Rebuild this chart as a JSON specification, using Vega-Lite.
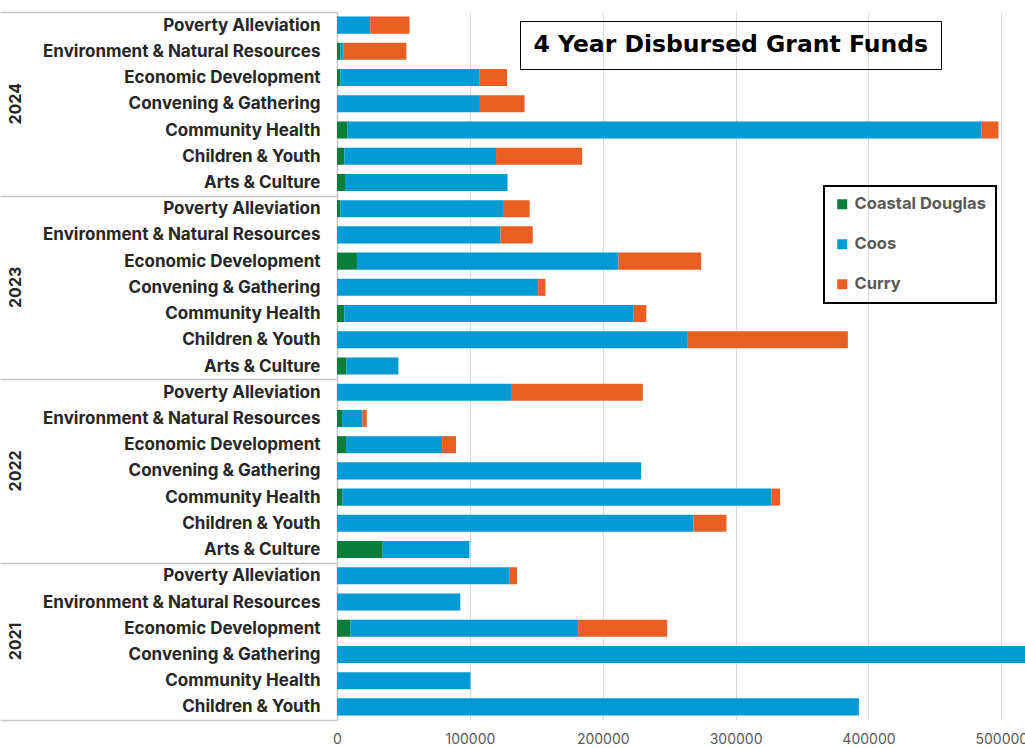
{
  "$schema": "https://vega.github.io/schema/vega-lite/v6.json",
  "autosize": {"type": "none"},
  "padding": {"left": 337, "top": 12, "right": 0, "bottom": 28},
  "width": 688,
  "height": 708,
  "background": "white",
  "config": {"view": {"stroke": null}, "font": "Inter"},
  "resolve": {"axis": {"y": "independent"}},
  "layer": [
    {
      "data": {"values": [
        {"key": "2024|Poverty Alleviation", "county": "Coos", "amount": 25000},
        {"key": "2024|Poverty Alleviation", "county": "Curry", "amount": 29600},
        {"key": "2024|Environment & Natural Resources", "county": "Coastal Douglas", "amount": 2500},
        {"key": "2024|Environment & Natural Resources", "county": "Coos", "amount": 2500},
        {"key": "2024|Environment & Natural Resources", "county": "Curry", "amount": 47200},
        {"key": "2024|Economic Development", "county": "Coastal Douglas", "amount": 2500},
        {"key": "2024|Economic Development", "county": "Coos", "amount": 104900},
        {"key": "2024|Economic Development", "county": "Curry", "amount": 20600},
        {"key": "2024|Convening & Gathering", "county": "Coos", "amount": 106900},
        {"key": "2024|Convening & Gathering", "county": "Curry", "amount": 34300},
        {"key": "2024|Community Health", "county": "Coastal Douglas", "amount": 8000},
        {"key": "2024|Community Health", "county": "Coos", "amount": 477200},
        {"key": "2024|Community Health", "county": "Curry", "amount": 12600},
        {"key": "2024|Children & Youth", "county": "Coastal Douglas", "amount": 5500},
        {"key": "2024|Children & Youth", "county": "Coos", "amount": 114200},
        {"key": "2024|Children & Youth", "county": "Curry", "amount": 64800},
        {"key": "2024|Arts & Culture", "county": "Coastal Douglas", "amount": 6000},
        {"key": "2024|Arts & Culture", "county": "Coos", "amount": 122300},
        {"key": "2023|Poverty Alleviation", "county": "Coastal Douglas", "amount": 2500},
        {"key": "2023|Poverty Alleviation", "county": "Coos", "amount": 122500},
        {"key": "2023|Poverty Alleviation", "county": "Curry", "amount": 20000},
        {"key": "2023|Environment & Natural Resources", "county": "Coos", "amount": 123000},
        {"key": "2023|Environment & Natural Resources", "county": "Curry", "amount": 24300},
        {"key": "2023|Economic Development", "county": "Coastal Douglas", "amount": 15000},
        {"key": "2023|Economic Development", "county": "Coos", "amount": 196800},
        {"key": "2023|Economic Development", "county": "Curry", "amount": 62300},
        {"key": "2023|Convening & Gathering", "county": "Coos", "amount": 151400},
        {"key": "2023|Convening & Gathering", "county": "Curry", "amount": 5500},
        {"key": "2023|Community Health", "county": "Coastal Douglas", "amount": 5500},
        {"key": "2023|Community Health", "county": "Coos", "amount": 217800},
        {"key": "2023|Community Health", "county": "Curry", "amount": 9500},
        {"key": "2023|Children & Youth", "county": "Coos", "amount": 264000},
        {"key": "2023|Children & Youth", "county": "Curry", "amount": 120500},
        {"key": "2023|Arts & Culture", "county": "Coastal Douglas", "amount": 7000},
        {"key": "2023|Arts & Culture", "county": "Coos", "amount": 39200},
        {"key": "2022|Poverty Alleviation", "county": "Coos", "amount": 131000},
        {"key": "2022|Poverty Alleviation", "county": "Curry", "amount": 99200},
        {"key": "2022|Environment & Natural Resources", "county": "Coastal Douglas", "amount": 3800},
        {"key": "2022|Environment & Natural Resources", "county": "Coos", "amount": 15300},
        {"key": "2022|Environment & Natural Resources", "county": "Curry", "amount": 3300},
        {"key": "2022|Economic Development", "county": "Coastal Douglas", "amount": 6800},
        {"key": "2022|Economic Development", "county": "Coos", "amount": 72300},
        {"key": "2022|Economic Development", "county": "Curry", "amount": 10500},
        {"key": "2022|Convening & Gathering", "county": "Coos", "amount": 228900},
        {"key": "2022|Community Health", "county": "Coastal Douglas", "amount": 4000},
        {"key": "2022|Community Health", "county": "Coos", "amount": 323000},
        {"key": "2022|Community Health", "county": "Curry", "amount": 6500},
        {"key": "2022|Children & Youth", "county": "Coos", "amount": 268300},
        {"key": "2022|Children & Youth", "county": "Curry", "amount": 24800},
        {"key": "2022|Arts & Culture", "county": "Coastal Douglas", "amount": 34400},
        {"key": "2022|Arts & Culture", "county": "Coos", "amount": 65300},
        {"key": "2021|Poverty Alleviation", "county": "Coos", "amount": 130000},
        {"key": "2021|Poverty Alleviation", "county": "Curry", "amount": 5500},
        {"key": "2021|Environment & Natural Resources", "county": "Coos", "amount": 92800},
        {"key": "2021|Economic Development", "county": "Coastal Douglas", "amount": 10000},
        {"key": "2021|Economic Development", "county": "Coos", "amount": 171500},
        {"key": "2021|Economic Development", "county": "Curry", "amount": 67000},
        {"key": "2021|Convening & Gathering", "county": "Coos", "amount": 520000},
        {"key": "2021|Community Health", "county": "Coos", "amount": 100400},
        {"key": "2021|Children & Youth", "county": "Coos", "amount": 392800}
      ]},
      "mark": {"type": "bar", "height": {"band": 0.65}, "clip": true},
      "encoding": {
        "y": {
          "field": "key", "type": "nominal",
          "sort": ["2024|Poverty Alleviation","2024|Environment & Natural Resources","2024|Economic Development","2024|Convening & Gathering","2024|Community Health","2024|Children & Youth","2024|Arts & Culture","2023|Poverty Alleviation","2023|Environment & Natural Resources","2023|Economic Development","2023|Convening & Gathering","2023|Community Health","2023|Children & Youth","2023|Arts & Culture","2022|Poverty Alleviation","2022|Environment & Natural Resources","2022|Economic Development","2022|Convening & Gathering","2022|Community Health","2022|Children & Youth","2022|Arts & Culture","2021|Poverty Alleviation","2021|Environment & Natural Resources","2021|Economic Development","2021|Convening & Gathering","2021|Community Health","2021|Children & Youth"],
          "scale": {"paddingInner": 0, "paddingOuter": 0},
          "axis": {
            "title": null,
            "orient": "left",
            "labelExpr": "isString(datum.value) ? split(datum.value, '|')[1] : ''",
            "labelFont": "Inter", "labelFontSize": 17, "labelFontWeight": "bold", "labelColor": "#262626",
            "labelPadding": -320, "labelLimit": 400,
            "tickBand": "extent", "tickSize": 337, "tickColor": "#c8c8c8", "tickWidth": 1.5,
            "tickOpacity": {"condition": {"test": "datum.extra || datum.value == '2024|Arts & Culture' || datum.value == '2023|Arts & Culture' || datum.value == '2022|Arts & Culture' || datum.value == '2021|Children & Youth'", "value": 1}, "value": 0},
            "domainColor": "#c8c8c8", "domainWidth": 1.5,
            "grid": false
          }
        },
        "x": {
          "field": "amount", "type": "quantitative", "stack": "zero",
          "scale": {"domain": [0, 517800], "nice": false},
          "axis": {
            "title": null, "values": [0, 100000, 200000, 300000, 400000, 500000], "format": "d",
            "domain": false, "ticks": false, "grid": true, "gridColor": "#d9d9d9", "gridWidth": 1,
            "labelFont": "Inter", "labelFontSize": 14, "labelColor": "#595959", "labelPadding": 12,
            "labelFlush": false, "labelOverlap": false
          }
        },
        "color": {
          "field": "county", "type": "nominal",
          "scale": {"domain": ["Coastal Douglas", "Coos", "Curry"], "range": ["#0b7d3a", "#009ad5", "#e95f23"]},
          "legend": {
            "title": null, "orient": "none", "legendX": 487, "legendY": 174,
            "symbolType": "square", "symbolSize": 100, "symbolStrokeWidth": 0,
            "labelFont": "Inter", "labelFontSize": 16.5, "labelFontWeight": "bold", "labelColor": "#595959",
            "labelOffset": 4, "labelLimit": 300, "rowPadding": 23, "padding": 10,
            "strokeColor": "#000000",
            "encode": {"legend": {"update": {"strokeWidth": {"value": 2}}}}
          }
        }
      }
    },
    {
      "data": {"values": [
        {"key": "2024|Poverty Alleviation", "heading": "4 Year Disbursed Grant Funds"}
      ]},
      "mark": {"type": "point", "opacity": 0},
      "encoding": {
        "y": {
          "field": "key", "type": "nominal",
          "sort": ["2024|Poverty Alleviation","2024|Environment & Natural Resources","2024|Economic Development","2024|Convening & Gathering","2024|Community Health","2024|Children & Youth","2024|Arts & Culture","2023|Poverty Alleviation","2023|Environment & Natural Resources","2023|Economic Development","2023|Convening & Gathering","2023|Community Health","2023|Children & Youth","2023|Arts & Culture","2022|Poverty Alleviation","2022|Environment & Natural Resources","2022|Economic Development","2022|Convening & Gathering","2022|Community Health","2022|Children & Youth","2022|Arts & Culture","2021|Poverty Alleviation","2021|Environment & Natural Resources","2021|Economic Development","2021|Convening & Gathering","2021|Community Health","2021|Children & Youth"],
          "axis": {
            "title": null, "orient": "left", "domain": false, "ticks": false, "grid": false,
            "labelExpr": "datum.value == '2024|Convening & Gathering' ? '2024' : datum.value == '2023|Convening & Gathering' ? '2023' : datum.value == '2022|Convening & Gathering' ? '2022' : datum.value == '2021|Convening & Gathering' ? '2021' : ''",
            "labelAngle": -90, "labelAlign": "center", "labelBaseline": "middle",
            "labelPadding": 322,
            "labelOffset": {"condition": {"test": "datum.value == '2021|Convening & Gathering'", "value": -13}, "value": 0},
            "labelFont": "Inter", "labelFontSize": 16, "labelFontWeight": "bold", "labelColor": "#262626"
          }
        },
        "shape": {
          "field": "heading", "type": "nominal",
          "legend": {
            "title": null, "orient": "none", "legendX": 183, "legendY": 9,
            "symbolSize": 0, "symbolOpacity": 0, "symbolStrokeWidth": 0,
            "labelFont": "DejaVu Sans", "labelFontSize": 23.5, "labelFontWeight": "bold", "labelColor": "#000000",
            "labelOffset": -22, "labelLimit": 800, "padding": 12,
            "strokeColor": "#000000",
            "encode": {"legend": {"update": {"strokeWidth": {"value": 2}}}}
          }
        }
      }
    }
  ]
}
